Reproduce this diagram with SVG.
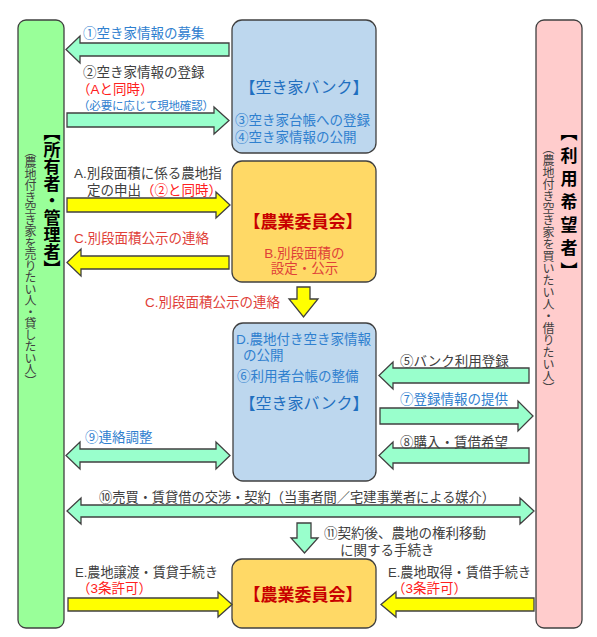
<svg xmlns="http://www.w3.org/2000/svg" width="597" height="637" viewBox="0 0 597 637">
<style>
text{font-family:"Liberation Sans","Noto Sans CJK JP",sans-serif;font-size:13.5px}
.b{fill:#2F80CF}.k{fill:#404040}.r{fill:#FF2020}.rc{fill:#E04038}
.ttl{font-size:16px;fill:#1F6FC0}
.nog{font-size:17px;font-weight:bold;fill:#C80000}
.ga{fill:#99FFCC;stroke:#404040;stroke-width:1.3}
.ya{fill:#FFFF00;stroke:#404040;stroke-width:1.3}
.col{stroke:#404040;stroke-width:1.3}
.v{writing-mode:vertical-rl}
</style>
<rect width="597" height="637" fill="#FFFFFF"/>

<g id="owner">
<rect class="col" x="18" y="20" width="46" height="608" rx="8" fill="#99FF99"/>
<text class="v" x="50" y="124" style="font-size:17px;font-weight:bold;fill:#000">【所有者・管理者】</text>
<text class="v k" x="29" y="145" style="font-size:12px" textLength="242" lengthAdjust="spacing">（農地付き空き家を売りたい人・貸したい人）</text>
</g>

<g id="user">
<rect class="col" x="536" y="20" width="46" height="608" rx="8" fill="#FFCCCC"/>
<text class="v" x="567" y="124" style="font-size:17px;font-weight:bold;fill:#000;letter-spacing:6px">【利用希望者】</text>
<text class="v k" x="547" y="142" style="font-size:12px" textLength="252" lengthAdjust="spacing">（農地付き空き家を買いたい人・借りたい人）</text>
</g>

<g id="bank1">
<rect class="col" x="232" y="20" width="144" height="133" rx="10" fill="#BDD7EE"/>
<text class="ttl" x="304" y="93" text-anchor="middle">【空き家バンク】</text>
<text class="b" x="235" y="125">③空き家台帳への登録</text>
<text class="b" x="235" y="142">④空き家情報の公開</text>
</g>

<g id="farm1">
<rect class="col" x="232" y="161" width="144" height="121" rx="10" fill="#FFD966"/>
<text class="nog" x="303" y="228" text-anchor="middle">【農業委員会】</text>
<text class="rc" x="304.5" y="258" text-anchor="middle">B.別段面積の</text>
<text class="rc" x="304.5" y="273" text-anchor="middle">設定・公示</text>
</g>

<g id="bank2">
<rect class="col" x="233" y="323" width="143" height="158" rx="10" fill="#BDD7EE"/>
<text class="b" x="236" y="344">D.農地付き空き家情報</text>
<text class="b" x="243" y="360">の公開</text>
<text class="b" x="237" y="381">⑥利用者台帳の整備</text>
<text class="ttl" x="304" y="409" text-anchor="middle">【空き家バンク】</text>
</g>

<g id="farm2">
<rect class="col" x="232" y="559" width="144" height="69" rx="10" fill="#FFD966"/>
<text class="nog" x="303" y="601" text-anchor="middle">【農業委員会】</text>
</g>

<g id="connectors">
<polygon class="ga" points="229,43 80,43 80,36 66,49.5 80,63 80,56 229,56"/>
<polygon class="ga" points="67,113 214,113 214,107 229,120.5 214,134 214,127 67,127"/>
<polygon class="ya" points="67,198 216,198 216,192 230,205 216,218 216,212 67,212"/>
<polygon class="ya" points="229,256 81,256 81,249 67,262.5 81,276 81,269 229,269"/>
<polygon class="ya" points="297,287 310,287 310,299 318,299 303.5,317 289,299 297,299"/>
<polygon class="ga" points="529,368 393,368 393,362 379,375.5 393,389 393,383 529,383"/>
<polygon class="ga" points="380,408 518,408 518,401 533,416 518,431 518,424 380,424"/>
<polygon class="ga" points="529,448 393,448 393,442 379,455.5 393,469 393,463 529,463"/>
<polygon class="ga" points="80,449 216,449 216,442 230,455.5 216,469 216,462 80,462 80,469 66,455.5 80,442"/>
<polygon class="ga" points="81,505 520,505 520,498 534,511 520,524 520,517 81,517 81,524 67,511 81,498"/>
<polygon class="ga" points="297,523 311,523 311,538 318,538 304.5,553 291,538 297,538"/>
<polygon class="ya" points="68,598 218,598 218,592 232,604.5 218,617 218,611 68,611"/>
<polygon class="ya" points="534,598 396,598 396,592 381,604.5 396,617 396,611 534,611"/>

<text class="b" x="83" y="38">①空き家情報の募集</text>
<text class="k" x="83" y="77">②空き家情報の登録</text>
<text class="r" x="77" y="94">（Aと同時）</text>
<text class="b" x="78" y="110" style="font-size:11.5px" textLength="136" lengthAdjust="spacing">（必要に応じて現地確認）</text>
<text class="k" x="74" y="178">A.別段面積に係る農地指</text>
<text class="k" x="87" y="195">定の申出<tspan class="r">（②と同時）</tspan></text>
<text class="rc" x="74" y="243">C.別段面積公示の連絡</text>
<text class="rc" x="145" y="307">C.別段面積公示の連絡</text>
<text class="k" x="400" y="366">⑤バンク利用登録</text>
<text class="b" x="400" y="404">⑦登録情報の提供</text>
<text class="k" x="400" y="447">⑧購入・賃借希望</text>
<text class="b" x="85" y="442">⑨連絡調整</text>
<text class="k" x="99" y="502" textLength="396" lengthAdjust="spacingAndGlyphs">⑩売買・賃貸借の交渉・契約（当事者間／宅建事業者による媒介）</text>
<text class="k" x="324" y="538">⑪契約後、農地の権利移動</text>
<text class="k" x="340" y="555">に関する手続き</text>
<text class="k" x="75" y="577" textLength="143" lengthAdjust="spacingAndGlyphs">E.農地譲渡・賃貸手続き</text>
<text class="r" x="77" y="593">（3条許可）</text>
<text class="k" x="388" y="577" textLength="143" lengthAdjust="spacingAndGlyphs">E.農地取得・賃借手続き</text>
<text class="r" x="392" y="593">（3条許可）</text>
</g>
</svg>
